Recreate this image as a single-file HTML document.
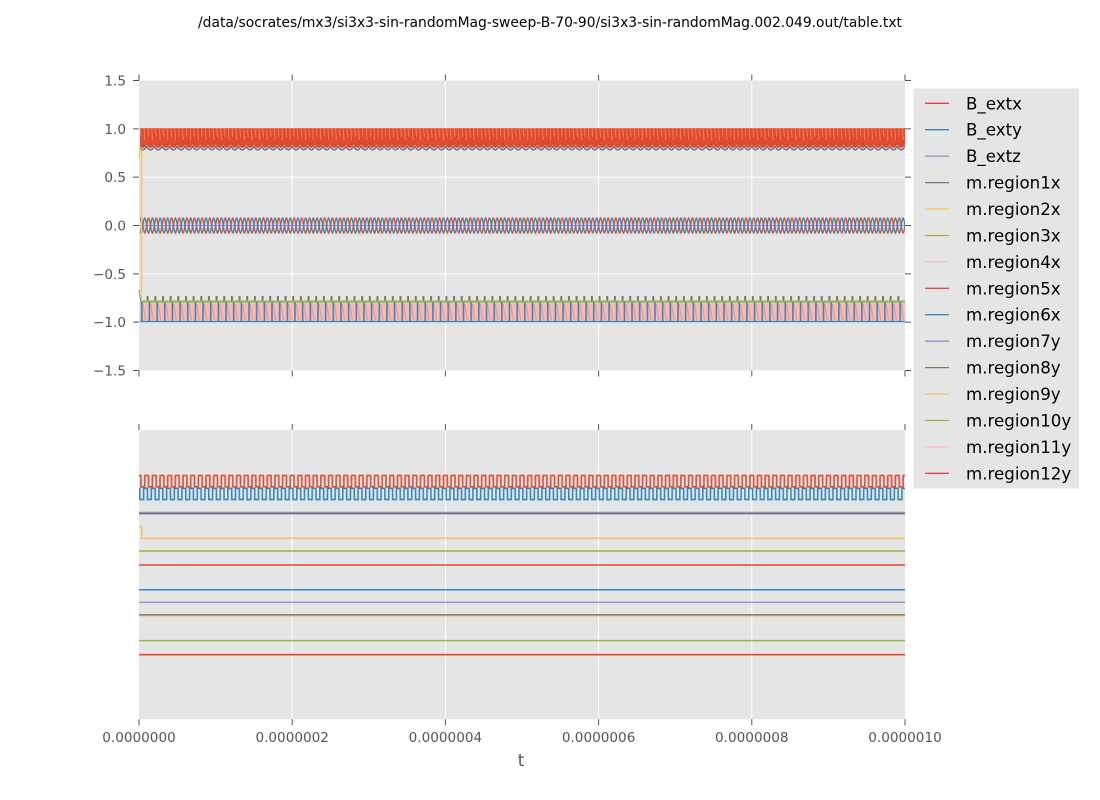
<!DOCTYPE html>
<html><head><meta charset="utf-8"><style>
html,body{margin:0;padding:0;background:#fff;}
svg{display:block;}
text{font-family:"DejaVu Sans","Liberation Sans",sans-serif;}
</style></head><body>
<svg width="1100" height="800" viewBox="0 0 1100 800" xmlns="http://www.w3.org/2000/svg">
<defs>
  <g id="tc">
    <!-- band near +1 -->
    <path d="M-0.3,145.8 Q3.83,153.8 7.96,145.8" stroke="#777777" stroke-width="1.6" fill="none"/>
    <path d="M-0.3,128.3 H7.96 V144 Q3.83,152 -0.3,144 Z" fill="#E24A33"/>
    <path d="M1.2,129 L2,137 M5.2,129 L5.8,140" stroke="#FBC15E" stroke-width="0.8" opacity="0.6" fill="none"/>
    <!-- sines near 0 -->
    <polyline points="0,225.5 0.638,221.75 1.277,219 1.915,218 2.553,219 3.192,221.75 3.83,225.5 4.468,229.25 5.107,232 5.745,233 6.383,232 7.022,229.25 7.66,225.5" stroke="#E24A33" stroke-width="1.4" fill="none"/>
    <polyline points="0,225.5 0.638,229.25 1.277,232 1.915,233 2.553,232 3.192,229.25 3.83,225.5 4.468,221.75 5.107,219 5.745,218 6.383,219 7.022,221.75 7.66,225.5" stroke="#348ABD" stroke-width="1.4" fill="none"/>
    <!-- band near -1 -->
    <path d="M1,296 V301" stroke="#777777" stroke-width="2" fill="none"/>
    <path d="M-0.3,301.5 H7.96" stroke="#8EBA42" stroke-width="2" fill="none"/>
    <rect x="-0.3" y="302.5" width="8.26" height="19.5" fill="#FFB5B8"/>
    <path d="M4,304 L6.5,320" stroke="#A8A070" stroke-width="1" opacity="0.7" fill="none"/>
    <path d="M2.8,302 V322" stroke="#348ABD" stroke-width="1.6" fill="none"/>
    <path d="M-0.3,321.6 H7.96" stroke="#348ABD" stroke-width="1.4" fill="none"/>
  </g>
  <g id="bc">
    <path d="M-0.5,475.5 H1.9 V486.8 H5.73 V475.5 H8.2" stroke="#E24A33" stroke-width="1.6" fill="none"/>
    <path d="M-0.5,488.3 H0.8 V499.6 H4.63 V488.3 H8.2" stroke="#348ABD" stroke-width="1.6" fill="none"/>
  </g>
  <pattern id="tp" patternUnits="userSpaceOnUse" x="139" y="0" width="7.66" height="800">
    <use href="#tc" x="-7.66"/><use href="#tc"/><use href="#tc" x="7.66"/>
  </pattern>
  <pattern id="bp" patternUnits="userSpaceOnUse" x="139" y="0" width="7.66" height="800">
    <use href="#bc" x="-7.66"/><use href="#bc"/><use href="#bc" x="7.66"/>
  </pattern>
</defs>

<!-- title -->
<text x="550" y="27" font-size="13.9" text-anchor="middle" textLength="704" lengthAdjust="spacingAndGlyphs" fill="#000">/data/socrates/mx3/si3x3-sin-randomMag-sweep-B-70-90/si3x3-sin-randomMag.002.049.out/table.txt</text>

<!-- top axes -->
<rect x="139" y="80.5" width="766" height="290" fill="#E5E5E5"/>
<g stroke="#ffffff" stroke-width="1">
  <path d="M292.2,80.5V370.5M445.4,80.5V370.5M598.6,80.5V370.5M751.8,80.5V370.5"/>
  <path d="M139,128.83H905M139,177.17H905M139,225.5H905M139,273.83H905M139,322.17H905"/>
</g>
<path d="M139,225.5H905" stroke="#988ED5" stroke-width="1"/>
<rect x="140" y="120" width="765" height="210" fill="url(#tp)"/>
<!-- initial transients -->
<path d="M139,157 L140,150 L141.5,150 L141.5,292" stroke="#FBC15E" stroke-width="1.5" fill="none"/>
<path d="M139,290 L141,299" stroke="#8EBA42" stroke-width="1.5" fill="none"/>

<!-- top ticks -->
<g stroke="#555" stroke-width="1">
  <path d="M139,74.5V80.5M292.2,74.5V80.5M445.4,74.5V80.5M598.6,74.5V80.5M751.8,74.5V80.5M905,74.5V80.5"/>
  <path d="M139,370.5V376.5M292.2,370.5V376.5M445.4,370.5V376.5M598.6,370.5V376.5M751.8,370.5V376.5M905,370.5V376.5"/>
  <path d="M133,80.5H139M133,128.83H139M133,177.17H139M133,225.5H139M133,273.83H139M133,322.17H139M133,370.5H139"/>
  <path d="M905,80.5H911M905,128.83H911M905,177.17H911M905,225.5H911M905,273.83H911M905,322.17H911M905,370.5H911"/>
</g>
<g font-size="13.6" fill="#555" text-anchor="end">
  <text x="126" y="85.5">1.5</text>
  <text x="126" y="133.8">1.0</text>
  <text x="126" y="182.2">0.5</text>
  <text x="126" y="230.5">0.0</text>
  <text x="126" y="278.8">−0.5</text>
  <text x="126" y="327.2">−1.0</text>
  <text x="126" y="375.5">−1.5</text>
</g>

<!-- bottom axes -->
<rect x="139" y="430" width="766" height="289.3" fill="#E5E5E5"/>
<g stroke="#ffffff" stroke-width="1">
  <path d="M292.2,430V719.3M445.4,430V719.3M598.6,430V719.3M751.8,430V719.3"/>
</g>
<rect x="139" y="470" width="766" height="35" fill="url(#bp)"/>
<g fill="none">
  <path d="M139,513.4H905" stroke="#777777" stroke-width="2"/>
  <path d="M139,512.3H905" stroke="#988ED5" stroke-width="1.2"/>
  <path d="M139,526.7H141.7V538.3H905" stroke="#FBC15E" stroke-width="1.5"/>
  <path d="M139,551H905" stroke="#8EBA42" stroke-width="1.5"/>
  <path d="M139,565H905" stroke="#E24A33" stroke-width="1.6"/>
  <path d="M139,589.7H905" stroke="#348ABD" stroke-width="1.5"/>
  <path d="M139,602.3H905" stroke="#988ED5" stroke-width="1.3"/>
  <path d="M139,615.8H905" stroke="#FBC15E" stroke-width="1.4"/>
  <path d="M139,614.8H905" stroke="#777777" stroke-width="1.4"/>
  <path d="M139,640.6H905" stroke="#8EBA42" stroke-width="1.5"/>
  <path d="M139,654.7H905" stroke="#E24A33" stroke-width="1.6"/>
</g>
<g stroke="#555" stroke-width="1">
  <path d="M139,424V430M292.2,424V430M445.4,424V430M598.6,424V430M751.8,424V430M905,424V430"/>
  <path d="M139,719.3V725.3M292.2,719.3V725.3M445.4,719.3V725.3M598.6,719.3V725.3M751.8,719.3V725.3M905,719.3V725.3"/>
</g>
<g font-size="13.6" fill="#555" text-anchor="middle">
  <text x="139" y="742">0.0000000</text>
  <text x="292.2" y="742">0.0000002</text>
  <text x="445.4" y="742">0.0000004</text>
  <text x="598.6" y="742">0.0000006</text>
  <text x="751.8" y="742">0.0000008</text>
  <text x="905" y="742">0.0000010</text>
</g>
<text x="521" y="766" font-size="16.67" fill="#555" text-anchor="middle">t</text>

<!-- legend -->
<rect x="913.5" y="88.5" width="165.5" height="400" fill="#E5E5E5"/>
<g stroke-width="1.3" fill="none">
  <path d="M925,103.3H949" stroke="#E24A33"/>
  <path d="M925,129.7H949" stroke="#348ABD"/>
  <path d="M925,156.2H949" stroke="#988ED5"/>
  <path d="M925,182.6H949" stroke="#777777"/>
  <path d="M925,209H949" stroke="#FBC15E"/>
  <path d="M925,235.5H949" stroke="#8EBA42"/>
  <path d="M925,261.9H949" stroke="#FFB5B8"/>
  <path d="M925,288.3H949" stroke="#E24A33"/>
  <path d="M925,314.7H949" stroke="#348ABD"/>
  <path d="M925,341.2H949" stroke="#988ED5"/>
  <path d="M925,367.6H949" stroke="#777777"/>
  <path d="M925,394H949" stroke="#FBC15E"/>
  <path d="M925,420.5H949" stroke="#8EBA42"/>
  <path d="M925,446.9H949" stroke="#FFB5B8"/>
  <path d="M925,473.3H949" stroke="#E24A33"/>
</g>
<g font-size="16.67" fill="#000">
  <text x="966" y="109.3">B_extx</text>
  <text x="966" y="135.7">B_exty</text>
  <text x="966" y="162.2">B_extz</text>
  <text x="966" y="188.6">m.region1x</text>
  <text x="966" y="215">m.region2x</text>
  <text x="966" y="241.5">m.region3x</text>
  <text x="966" y="267.9">m.region4x</text>
  <text x="966" y="294.3">m.region5x</text>
  <text x="966" y="320.7">m.region6x</text>
  <text x="966" y="347.2">m.region7y</text>
  <text x="966" y="373.6">m.region8y</text>
  <text x="966" y="400">m.region9y</text>
  <text x="966" y="426.5">m.region10y</text>
  <text x="966" y="452.9">m.region11y</text>
  <text x="966" y="479.3">m.region12y</text>
</g>
</svg>
</body></html>
